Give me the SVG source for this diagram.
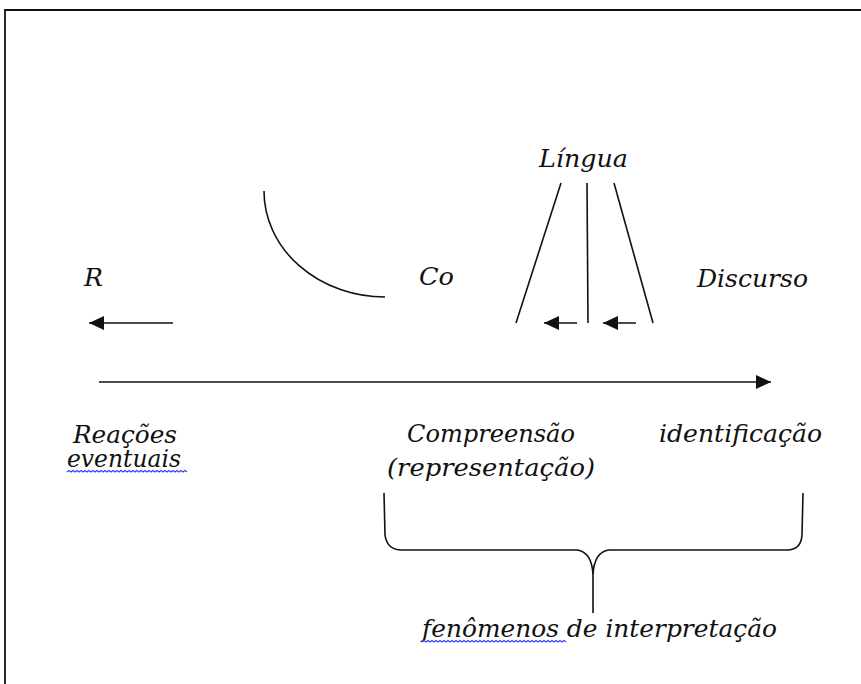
<svg xmlns="http://www.w3.org/2000/svg" width="861" height="684" viewBox="0 0 861 684">
<defs>
<style>
.t{font-family:"DejaVu Serif","Liberation Serif",serif;font-style:italic;font-size:25px;fill:#111}
.ln{stroke:#111;stroke-width:1.6;fill:none}
.wave{stroke:#2f3cff;stroke-width:1.1;fill:none}
</style>
<marker id="ah" markerUnits="userSpaceOnUse" markerWidth="16" markerHeight="14" refX="15" refY="7" orient="auto">
<path d="M0,0 L15,7 L0,14 Z" fill="#111"/>
</marker>
</defs>
<rect width="861" height="684" fill="#fff"/>
<g id="frame" class="ln"><path d="M5,684 L5,10 L861,10" stroke-width="1.8"/></g>

<g id="connectors">
<line class="ln" x1="99" y1="382" x2="771" y2="382" stroke-width="2" marker-end="url(#ah)"/>
<line class="ln" x1="173" y1="323" x2="89" y2="323" marker-end="url(#ah)"/>
<line class="ln" x1="577" y1="323" x2="544" y2="323" marker-end="url(#ah)"/>
<line class="ln" x1="636" y1="323" x2="603" y2="323" marker-end="url(#ah)"/>
<path class="ln" d="M264,191 A121,106 0 0 0 385,297"/>
<line class="ln" x1="561" y1="183" x2="516" y2="323"/>
<line class="ln" x1="587" y1="183" x2="588" y2="323"/>
<line class="ln" x1="614" y1="183" x2="653" y2="323"/>
<path class="ln" d="M384,493 L385,535 Q387,550 402,550 L577,550 Q592,552 593,575 L593,613 M593,575 Q594,552 609,550 L787,550 Q801,550 802,535 L803,493"/>
</g>

<g id="lingua"><text class="t" x="539" y="167" textLength="89" lengthAdjust="spacingAndGlyphs">Língua</text></g>
<g id="r"><text class="t" x="84" y="286" textLength="19" lengthAdjust="spacingAndGlyphs">R</text></g>
<g id="co"><text class="t" x="419" y="285" textLength="35" lengthAdjust="spacingAndGlyphs">Co</text></g>
<g id="discurso"><text class="t" x="697" y="287" textLength="111" lengthAdjust="spacingAndGlyphs">Discurso</text></g>
<g id="reacoes">
<text class="t" x="73" y="443" textLength="104" lengthAdjust="spacingAndGlyphs">Reações</text>
<text class="t" x="67" y="467" textLength="114" lengthAdjust="spacingAndGlyphs">eventuais</text>
<path class="wave" d="M67,472 l2,-1.5 l2,1.5 l2,-1.5 l2,1.5 l2,-1.5 l2,1.5 l2,-1.5 l2,1.5 l2,-1.5 l2,1.5 l2,-1.5 l2,1.5 l2,-1.5 l2,1.5 l2,-1.5 l2,1.5 l2,-1.5 l2,1.5 l2,-1.5 l2,1.5 l2,-1.5 l2,1.5 l2,-1.5 l2,1.5 l2,-1.5 l2,1.5 l2,-1.5 l2,1.5 l2,-1.5 l2,1.5 l2,-1.5 l2,1.5 l2,-1.5 l2,1.5 l2,-1.5 l2,1.5 l2,-1.5 l2,1.5 l2,-1.5 l2,1.5 l2,-1.5 l2,1.5 l2,-1.5 l2,1.5 l2,-1.5 l2,1.5 l2,-1.5 l2,1.5 l2,-1.5 l2,1.5 l2,-1.5 l2,1.5 l2,-1.5 l2,1.5 l2,-1.5 l2,1.5 l2,-1.5 l2,1.5 l2,-1.5 l2,1.5"/>
</g>
<g id="compreensao">
<text class="t" x="407" y="442" textLength="168" lengthAdjust="spacingAndGlyphs">Compreensão</text>
<text class="t" x="387" y="476" textLength="208" lengthAdjust="spacingAndGlyphs">(representação)</text>
</g>
<g id="identificacao"><text class="t" x="659" y="442" textLength="163" lengthAdjust="spacingAndGlyphs">identificação</text></g>
<g id="fenomenos">
<text class="t" x="422" y="637" textLength="355" lengthAdjust="spacingAndGlyphs">fenômenos de interpretação</text>
<path class="wave" d="M422,642 l2,-1.5 l2,1.5 l2,-1.5 l2,1.5 l2,-1.5 l2,1.5 l2,-1.5 l2,1.5 l2,-1.5 l2,1.5 l2,-1.5 l2,1.5 l2,-1.5 l2,1.5 l2,-1.5 l2,1.5 l2,-1.5 l2,1.5 l2,-1.5 l2,1.5 l2,-1.5 l2,1.5 l2,-1.5 l2,1.5 l2,-1.5 l2,1.5 l2,-1.5 l2,1.5 l2,-1.5 l2,1.5 l2,-1.5 l2,1.5 l2,-1.5 l2,1.5 l2,-1.5 l2,1.5 l2,-1.5 l2,1.5 l2,-1.5 l2,1.5 l2,-1.5 l2,1.5 l2,-1.5 l2,1.5 l2,-1.5 l2,1.5 l2,-1.5 l2,1.5 l2,-1.5 l2,1.5 l2,-1.5 l2,1.5 l2,-1.5 l2,1.5 l2,-1.5 l2,1.5 l2,-1.5 l2,1.5 l2,-1.5 l2,1.5 l2,-1.5 l2,1.5 l2,-1.5 l2,1.5 l2,-1.5 l2,1.5 l2,-1.5 l2,1.5 l2,-1.5 l2,1.5 l2,-1.5 l2,1.5"/>
</g>
</svg>
